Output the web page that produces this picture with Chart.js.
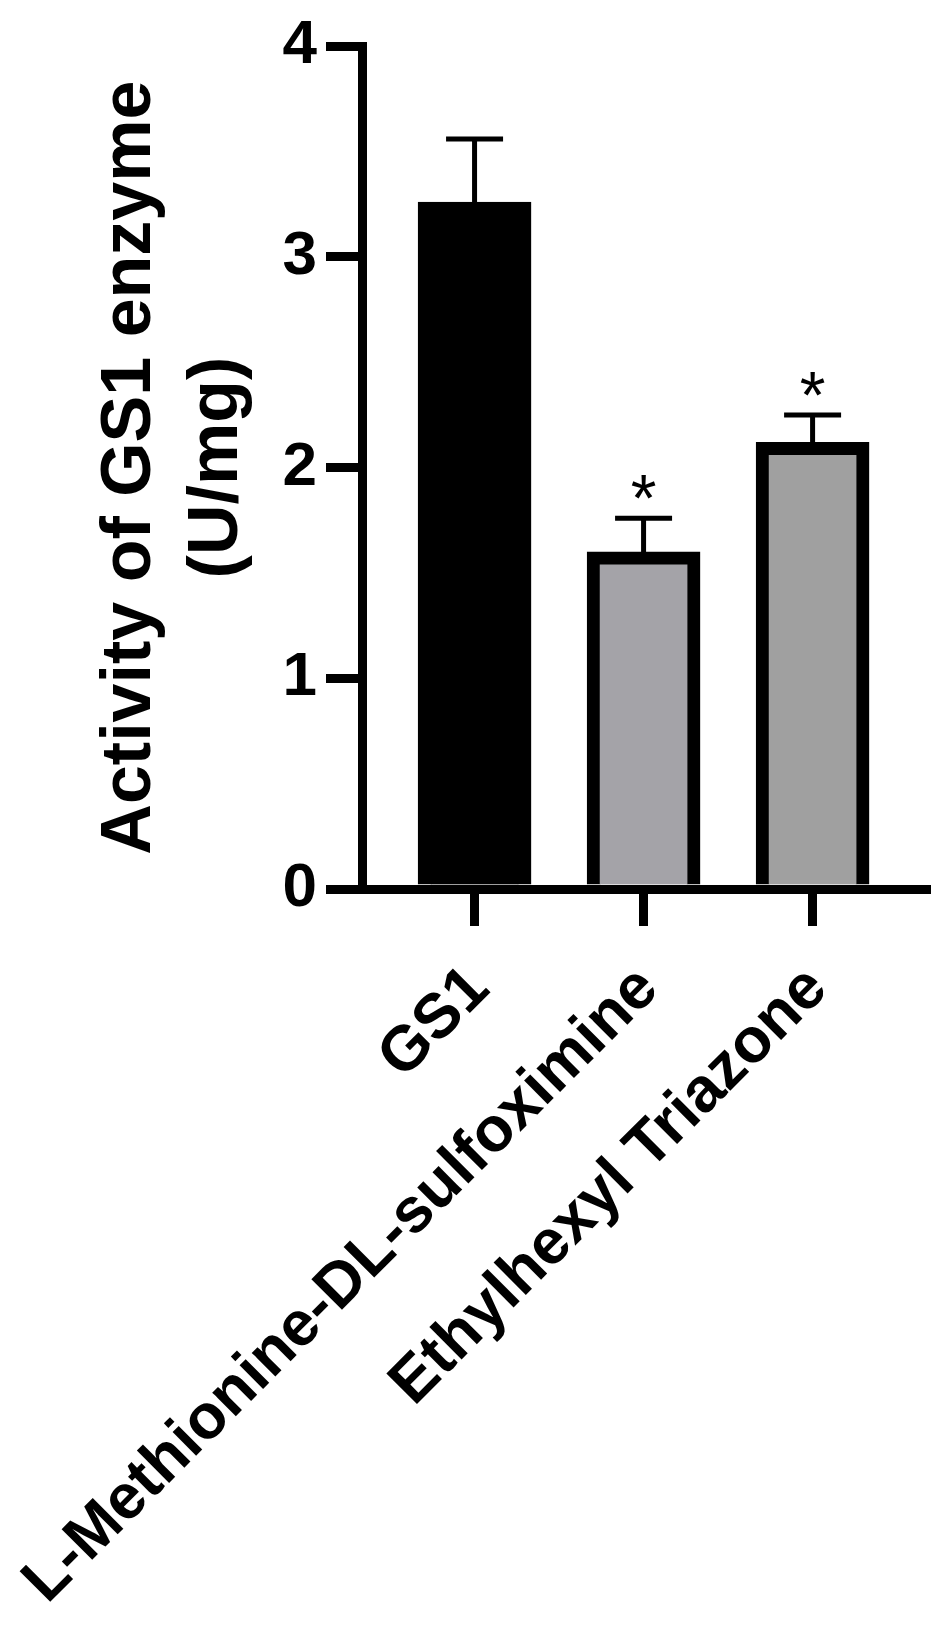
<!DOCTYPE html>
<html>
<head>
<meta charset="utf-8">
<title>Activity of GS1 enzyme</title>
<script src="https://cdn.jsdelivr.net/npm/chart.js@4.4.1/dist/chart.umd.min.js"></script>
<style>
  html, body { margin: 0; padding: 0; background: #fff; }
  #wrap { width: 946px; height: 1625px; }
</style>
</head>
<body>
<div id="wrap"><canvas id="gsChart"></canvas></div>
<script>
// GS1 enzyme activity (U/mg), mean + SEM, with significance marks.
const categories = ["GS1", "L-Methionine-DL-sulfoximine", "Ethylhexyl Triazone"];
const activity = [3.26, 1.60, 2.12];
const sem = [0.30, 0.16, 0.13];
const marks = ["", "*", "*"];
const yTicks = [0, 1, 2, 3, 4];
const barColors = ["#000000", "#a4a3a8", "#a0a0a0"];

const FONT = "'Liberation Sans', Arial, Helvetica, sans-serif";

// error bars (upper half only) and asterisks above them
const errorBars = {
  id: "errorBars",
  afterDatasetsDraw(chart) {
    const { ctx, scales: { x, y } } = chart;
    ctx.save();
    ctx.strokeStyle = "#000";
    ctx.fillStyle = "#000";
    activity.forEach((v, i) => {
      const px = x.getPixelForValue(i);
      const yBar = y.getPixelForValue(v);
      const yTop = y.getPixelForValue(v + sem[i]);
      ctx.lineWidth = 5;
      ctx.beginPath();
      ctx.moveTo(px, yBar);
      ctx.lineTo(px, yTop);
      ctx.moveTo(px - 28.5, yTop);
      ctx.lineTo(px + 28.5, yTop);
      ctx.stroke();
      if (marks[i]) {
        ctx.font = "66px " + FONT;
        ctx.textAlign = "center";
        ctx.textBaseline = "alphabetic";
        ctx.fillText(marks[i], px, yTop + 3);
      }
    });
    ctx.restore();
  }
};

new Chart(document.getElementById("gsChart"), {
  type: "bar",
  data: {
    datasets: [{
      data: activity.map((v, i) => ({ x: i, y: v })),
      backgroundColor: barColors,
      borderColor: "#000",
      borderWidth: 13,
      borderSkipped: "start",
      barThickness: 113
    }]
  },
  options: {
    responsive: true,
    maintainAspectRatio: false,
    animation: false,
    layout: { padding: { top: 45, right: 20, bottom: 0, left: 0 } },
    plugins: { legend: { display: false }, tooltip: { enabled: false } },
    scales: {
      x: {
        type: "linear",
        bounds: "data",
        offset: false,
        min: -0.666,
        max: 2.671,
        z: 1,
        border: { display: true, width: 9, color: "#000" },
        grid: { offset: false, drawOnChartArea: false, drawTicks: true, tickLength: 37, lineWidth: 9, color: "#000" },
        afterBuildTicks: (axis) => { axis.ticks = categories.map((c, i) => ({ value: i })); },
        afterFit: (scale) => { scale.height = 736; },
        ticks: {
          autoSkip: false,
          minRotation: 45,
          maxRotation: 45,
          padding: 26,
          labelOffset: 5,
          color: "#000",
          font: { family: FONT, size: 63, weight: "bold" },
          callback: (v) => categories[v]
        }
      },
      y: {
        min: 0,
        max: 4,
        z: 1,
        border: { display: true, width: 9, color: "#000" },
        grid: { drawOnChartArea: false, drawTicks: true, tickLength: 36, lineWidth: 9, color: "#000" },
        afterBuildTicks: (axis) => { axis.ticks = yTicks.map(v => ({ value: v })); },
        afterFit: (scale) => { scale.width = 362; },
        ticks: {
          padding: 9,
          color: "#000",
          font: { family: FONT, size: 62, weight: "bold" }
        },
        title: {
          display: true,
          text: ["Activity of GS1 enzyme", "(U/mg)"],
          color: "#000",
          font: { family: FONT, size: 70, weight: "bold", lineHeight: 1.243 },
          padding: { top: 87, bottom: 0 }
        }
      }
    }
  },
  plugins: [errorBars]
});
</script>
</body>
</html>
